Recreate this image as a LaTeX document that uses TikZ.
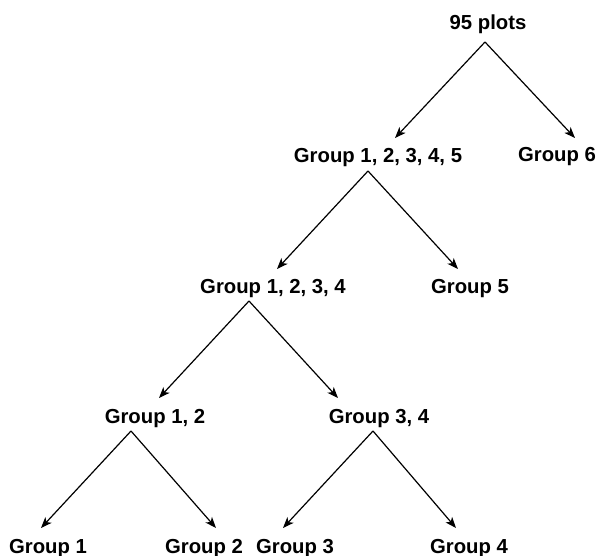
\documentclass[tikz,border=0pt]{standalone}
\usepackage{fontspec}
\setmainfont{Liberation Sans}
\usetikzlibrary{arrows.meta, positioning}

\begin{document}
\begin{tikzpicture}[x=1pt, y=-1pt]
			\tikzset {split/.style={->, >={Stealth[length=11pt, width=8.5pt, inset=3pt]}, line width=1.2pt}, every node/.style={font=\fontsize{20.3}{24}\selectfont\bfseries, inner sep=0pt, anchor=base} }

			\useasboundingbox (0,0) rectangle (597,556);

			\node (plots)	at (488,30)		{95 plots};
			\node (g12345)	at (378,162.5)	{Group 1, 2, 3, 4, 5};
			\node (g6)		at (557,162)	{Group 6};
			\node (g1234)	at (273,293)	{Group 1, 2, 3, 4};
			\node (g5)		at (470,293)	{Group 5};
			\node (g12)		at (155,423)	{Group 1, 2};
			\node (g34)		at (379,423)	{Group 3, 4};
			\node (g1)		at (48,553)		{Group 1};
			\node (g2)		at (204,553)	{Group 2};
			\node (g3)		at (295,553)	{Group 3};
			\node (g4)		at (469,553)	{Group 4};

			\draw[split] ([shift={(-3pt,-12pt)}]plots.base) -- ([shift={(17pt,24.5pt)}]g12345.base);
			\draw[split] ([shift={(-3pt,-12pt)}]plots.base) -- ([shift={(18pt,24pt)}]g6.base);
			\draw[split] ([shift={(-10pt,-8.5pt)}]g12345.base) -- ([shift={(4pt,24pt)}]g1234.base);
			\draw[split] ([shift={(-10pt,-8.5pt)}]g12345.base) -- ([shift={(-12pt,24pt)}]g5.base);
			\draw[split] ([shift={(-24pt,-8pt)}]g1234.base) -- ([shift={(4pt,25pt)}]g12.base);
			\draw[split] ([shift={(-24pt,-8pt)}]g1234.base) -- ([shift={(-41pt,25pt)}]g34.base);
			\draw[split] ([shift={(-24pt,-8pt)}]g12.base) -- ([shift={(-7pt,25pt)}]g1.base);
			\draw[split] ([shift={(-24pt,-8pt)}]g12.base) -- ([shift={(12pt,25pt)}]g2.base);
			\draw[split] ([shift={(-6pt,-8pt)}]g34.base) -- ([shift={(-12pt,25pt)}]g3.base);
			\draw[split] ([shift={(-6pt,-8pt)}]g34.base) -- ([shift={(-13pt,25pt)}]g4.base);

		\end{tikzpicture}
\end{document}
